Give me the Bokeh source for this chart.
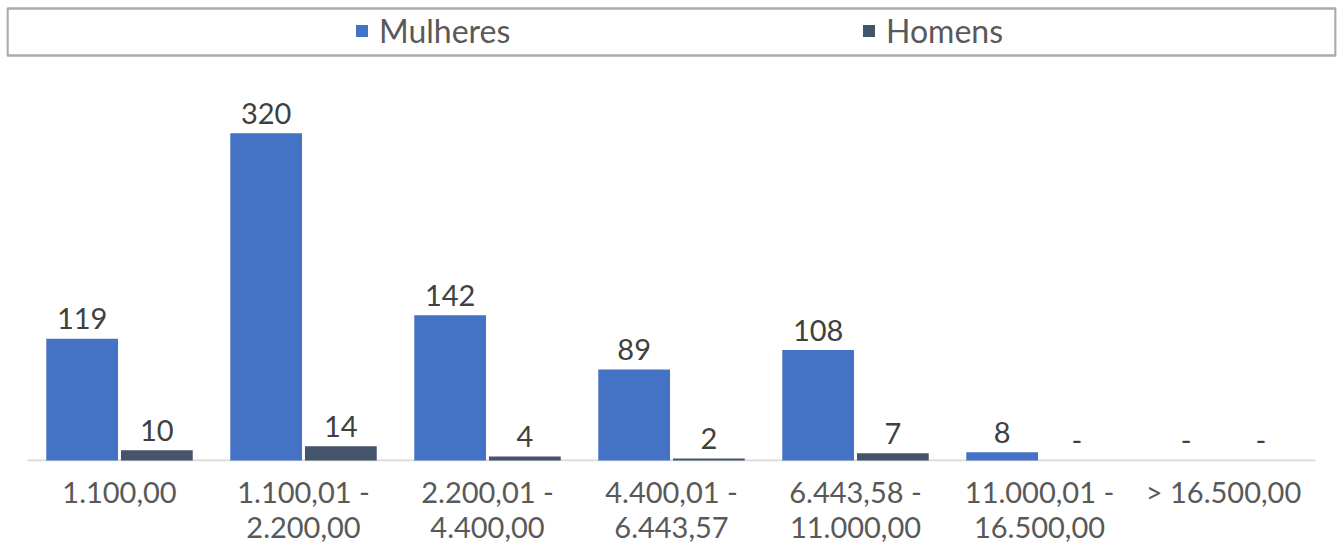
from bokeh.plotting import figure
from bokeh.models import ColumnDataSource, Range1d, FactorRange, Legend, LegendItem, BoxAnnotation
from bokeh.transform import dodge
from bokeh.embed import file_html
from bokeh.resources import INLINE
from bokeh.core.properties import value

categories = ["1.100,00", "1.100,01 -\n2.200,00", "2.200,01 -\n4.400,00",
              "4.400,01 -\n6.443,57", "6.443,58 -\n11.000,00",
              "11.000,01 -\n16.500,00", "> 16.500,00"]
mulheres = [119, 320, 142, 89, 108, 8, 0]
homens = [10, 14, 4, 2, 7, 0, 0]
series_names = ["Mulheres", "Homens"]

BLUE = "#4472C4"
DARK = "#44546A"
FONT = "Lato"

def fmt(v):
    return "-" if v == 0 else str(v)

src = ColumnDataSource(dict(
    cat=categories,
    m=mulheres,
    h=homens,
    ml=[fmt(v) for v in mulheres],
    hl=[fmt(v) for v in homens],
))

W, H = 1340, 546
BL, BR, BT, BB = 6, 4, 0, 84
FW, FH = W - BL - BR, H - BT - BB

xr = FactorRange(factors=categories, range_padding=0.1141, range_padding_units="absolute")
p = figure(width=W, height=H, x_range=xr, y_range=Range1d(-1, 449.7),
           output_backend="svg", toolbar_location=None,
           min_border_left=BL, min_border_right=BR, min_border_top=BT, min_border_bottom=BB)
p.outline_line_color = None
p.grid.visible = False
p.yaxis.visible = False

# baseline (category axis line) spanning the categories only
base = ColumnDataSource(dict(c0=[categories[0]], c1=[categories[-1]], y=[0]))
p.segment(x0=dodge("c0", -0.5, range=xr), x1=dodge("c1", 0.5, range=xr), y0="y", y1="y",
          source=base, line_color="#D9D9D9", line_width=2)

r1 = p.vbar(x=dodge("cat", -0.203, range=xr), top="m", width=0.39, source=src,
            fill_color=BLUE, line_color=None)
r2 = p.vbar(x=dodge("cat", 0.203, range=xr), top="h", width=0.39, source=src,
            fill_color=DARK, line_color=None)

p.text(x=dodge("cat", -0.203, range=xr), y="m", text="ml", source=src,
       text_align="center", text_baseline="alphabetic", y_offset=-20,
       text_font=value(FONT), text_font_size="29px", text_color="#404040")
p.text(x=dodge("cat", 0.203, range=xr), y="h", text="hl", source=src,
       text_align="center", text_baseline="alphabetic", y_offset=-20,
       text_font=value(FONT), text_font_size="29px", text_color="#404040")

ax = p.xaxis[0]
ax.axis_line_color = None
ax.major_tick_line_color = None
ax.minor_tick_line_color = None
ax.major_tick_in = 0
ax.major_tick_out = 0
ax.minor_tick_in = 0
ax.minor_tick_out = 0
ax.major_label_standoff = 12
ax.major_label_text_font = FONT
ax.major_label_text_font_size = "29px"
ax.major_label_text_color = "#595959"
ax.major_label_text_line_height = 1.0

# legend frame box (screen units relative to the plot frame)
box = BoxAnnotation(left=1, right=1335 - BL, top=FH - 9, bottom=FH - 56,
                    left_units="screen", right_units="screen",
                    top_units="screen", bottom_units="screen",
                    fill_alpha=0, line_color="#ABABAB", line_alpha=1, line_width=2.5)
p.add_layout(box)

legend = Legend(items=[LegendItem(label=series_names[0], renderers=[r1]),
                       LegendItem(label=series_names[1], renderers=[r2])],
                orientation="horizontal", location=(348, FH - 51),
                border_line_alpha=0, background_fill_alpha=0,
                padding=0, margin=0, spacing=342,
                glyph_width=15, glyph_height=15, label_standoff=10, label_width=140,
                label_text_font=FONT, label_text_font_size="32px",
                label_text_color="#595959")
p.add_layout(legend, "center")

open("out.html", "w").write(file_html(p, INLINE))
